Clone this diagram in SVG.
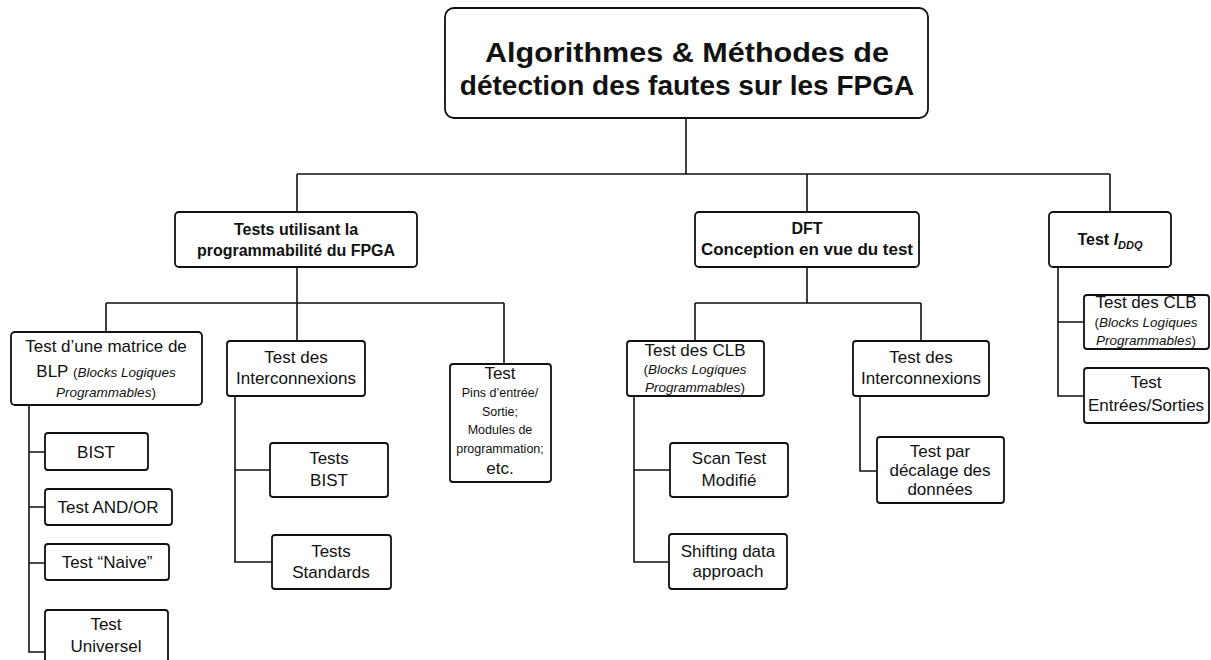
<svg xmlns="http://www.w3.org/2000/svg" width="1211" height="660" viewBox="0 0 1211 660">
<style>
.box{fill:#fff;stroke:#111;stroke-width:1.8}
.c{fill:none;stroke:#111;stroke-width:1.6}
text{font-family:"Liberation Sans",Arial,sans-serif;fill:#111;text-anchor:middle}
.t0{font-size:28px;font-weight:bold}
.t1{font-size:16px;font-weight:bold}
.t2{font-size:17px}
.sm{font-size:13.5px;font-style:italic}
.sp{font-size:13.5px}
.pin{font-size:12.5px}
</style>
<rect width="1211" height="660" fill="#fff"/>
<g id="connectors">
<path class="c" d="M686 118V174M297 174H1110M297 174V212M807 174V212M1110 174V212"/>
<path class="c" d="M297 267V303M106 303H504M106 303V332M297 303V341M504 303V364"/>
<path class="c" d="M29 405V652H45M29 452H45M29 507H45M29 563H45"/>
<path class="c" d="M235 396V562H272M235 470H270"/>
<path class="c" d="M807 267V303M695 303H921M695 303V341M921 303V341"/>
<path class="c" d="M634 396V562H669M634 470H670"/>
<path class="c" d="M860 396V471H877"/>
<path class="c" d="M1058 267V396H1084M1058 322H1084"/>
</g>
<g id="root">
<rect class="box" x="445" y="8" width="483" height="110" rx="9"/>
<text class="t0" x="687" y="62" textLength="404" lengthAdjust="spacingAndGlyphs">Algorithmes &amp; Méthodes de</text>
<text class="t0" x="687" y="95">détection des fautes sur les FPGA</text>
</g>
<g id="prog">
<rect class="box" x="175" y="212" width="242" height="55" rx="4"/>
<text class="t1" x="296" y="235">Tests utilisant la</text>
<text class="t1" x="296" y="256">programmabilité du FPGA</text>
</g>
<g id="dft">
<rect class="box" x="695" y="212" width="224" height="55" rx="4"/>
<text class="t1" x="807" y="234" font-size="17">DFT</text>
<text class="t1" x="807" y="255" textLength="212" lengthAdjust="spacingAndGlyphs">Conception en vue du test</text>
</g>
<g id="iddq">
<rect class="box" x="1049" y="212" width="122" height="55" rx="4"/>
<text class="t1" x="1110" y="245">Test <tspan font-style="italic">I</tspan><tspan font-style="italic" font-size="11" dy="4">DDQ</tspan></text>
</g>
<g id="blp">
<rect class="box" x="11" y="332" width="191" height="73" rx="4"/>
<text class="t2" x="106" y="352">Test d’une matrice de</text>
<text class="t2" x="106" y="377">BLP <tspan class="sp">(</tspan><tspan class="sm">Blocks Logiques</tspan></text>
<text class="sm" x="106" y="397">Programmables<tspan font-style="normal">)</tspan></text>
</g>
<g id="bist">
<rect class="box" x="45" y="433" width="103" height="37" rx="3"/>
<text class="t2" x="96" y="458">BIST</text>
</g>
<g id="andor">
<rect class="box" x="45" y="489" width="127" height="36" rx="3"/>
<text class="t2" x="108" y="513">Test AND/OR</text>
</g>
<g id="naive">
<rect class="box" x="45" y="544" width="124" height="36" rx="3"/>
<text class="t2" x="107" y="568">Test “Naive”</text>
</g>
<g id="universel">
<rect class="box" x="45" y="610" width="123" height="60" rx="3"/>
<text class="t2" x="106" y="630">Test</text>
<text class="t2" x="106" y="652">Universel</text>
</g>
<g id="interco1">
<rect class="box" x="227" y="341" width="138" height="55" rx="3"/>
<text class="t2" x="296" y="363">Test des</text>
<text class="t2" x="296" y="384">Interconnexions</text>
</g>
<g id="testsbist">
<rect class="box" x="270" y="443" width="118" height="54" rx="3"/>
<text class="t2" x="329" y="464">Tests</text>
<text class="t2" x="329" y="486">BIST</text>
</g>
<g id="standards">
<rect class="box" x="272" y="535" width="119" height="54" rx="3"/>
<text class="t2" x="331" y="557">Tests</text>
<text class="t2" x="331" y="578">Standards</text>
</g>
<g id="pins">
<rect class="box" x="450" y="364" width="101" height="118" rx="3"/>
<text class="t2" x="500" y="379">Test</text>
<text class="pin" x="500" y="397">Pins d’entrée/</text>
<text class="pin" x="500" y="416">Sortie;</text>
<text class="pin" x="500" y="434">Modules de</text>
<text class="pin" x="500" y="453">programmation;</text>
<text class="t2" x="500" y="474">etc.</text>
</g>
<g id="clb1">
<rect class="box" x="627" y="341" width="137" height="55" rx="3"/>
<text class="t2" x="695" y="356">Test des CLB</text>
<text class="sm" x="695" y="374"><tspan font-style="normal">(</tspan>Blocks Logiques</text>
<text class="sm" x="695" y="392">Programmables<tspan font-style="normal">)</tspan></text>
</g>
<g id="scan">
<rect class="box" x="670" y="443" width="118" height="54" rx="3"/>
<text class="t2" x="729" y="464">Scan Test</text>
<text class="t2" x="729" y="486">Modifié</text>
</g>
<g id="shifting">
<rect class="box" x="669" y="534" width="118" height="55" rx="3"/>
<text class="t2" x="728" y="557">Shifting data</text>
<text class="t2" x="728" y="577">approach</text>
</g>
<g id="interco2">
<rect class="box" x="853" y="341" width="136" height="55" rx="3"/>
<text class="t2" x="921" y="363">Test des</text>
<text class="t2" x="921" y="384">Interconnexions</text>
</g>
<g id="decalage">
<rect class="box" x="877" y="437" width="127" height="66" rx="3"/>
<text class="t2" x="940" y="457">Test par</text>
<text class="t2" x="940" y="476">décalage des</text>
<text class="t2" x="940" y="495">données</text>
</g>
<g id="clb2">
<rect class="box" x="1084" y="295" width="125" height="54" rx="3"/>
<text class="t2" x="1146" y="308">Test des CLB</text>
<text class="sm" x="1146" y="327"><tspan font-style="normal">(</tspan>Blocks Logiques</text>
<text class="sm" x="1146" y="345">Programmables<tspan font-style="normal">)</tspan></text>
</g>
<g id="io">
<rect class="box" x="1084" y="368" width="125" height="55" rx="3"/>
<text class="t2" x="1146" y="388">Test</text>
<text class="t2" x="1146" y="411">Entrées/Sorties</text>
</g>
</svg>
